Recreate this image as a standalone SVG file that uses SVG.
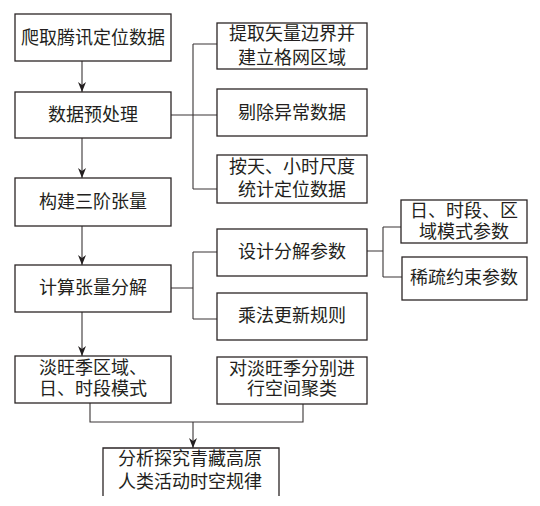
<svg xmlns="http://www.w3.org/2000/svg" width="540" height="506" viewBox="0 0 540 506">
<style>
.box{fill:#fff;stroke:#2b2526;stroke-width:1.3}
.t{font-family:"Liberation Serif","Noto Sans CJK SC",serif;font-size:18px;fill:#231f20;text-anchor:middle}
.ln{fill:none;stroke:#3a3536;stroke-width:1.1}
</style>
<defs>
<marker id="ah" viewBox="0 0 10 10" refX="10" refY="5" markerWidth="10" markerHeight="10" markerUnits="userSpaceOnUse" orient="auto">
<path d="M0,1 L10,5 L0,9 L3,5 Z" fill="#231f20"/>
</marker>
</defs>
<rect width="540" height="506" fill="#fff"/>
<g id="connectors">
<line class="ln" x1="82" y1="61" x2="82" y2="92" marker-end="url(#ah)"/>
<line class="ln" x1="82" y1="138" x2="82" y2="178" marker-end="url(#ah)"/>
<line class="ln" x1="82" y1="226" x2="82" y2="265" marker-end="url(#ah)"/>
<line class="ln" x1="82" y1="312" x2="82" y2="356" marker-end="url(#ah)"/>
<path class="ln" d="M171,115 H217 M193,44 V189 M193,44 H217 M193,189 H217"/>
<path class="ln" d="M171,288 H193 M193,252 V319 M193,252 H217 M193,319 H217"/>
<path class="ln" d="M367,251 H383 M383,227 V277 M383,227 H401 M383,277 H402"/>
<path class="ln" d="M90,403 V422 H303 V404"/>
<line class="ln" x1="193" y1="422" x2="193" y2="448" marker-end="url(#ah)"/>
</g>
<g id="n1"><rect class="box" x="15" y="14" width="156" height="47"/><text class="t" x="93" y="44">爬取腾讯定位数据</text></g>
<g id="n2"><rect class="box" x="15" y="92" width="156" height="46"/><text class="t" x="93" y="121">数据预处理</text></g>
<g id="n3"><rect class="box" x="15" y="178" width="156" height="48"/><text class="t" x="93" y="208">构建三阶张量</text></g>
<g id="n4"><rect class="box" x="15" y="265" width="156" height="47"/><text class="t" x="93" y="294">计算张量分解</text></g>
<g id="n5"><rect class="box" x="15" y="356" width="156" height="47"/><text class="t" x="93" y="374">淡旺季区域、</text><text class="t" x="93" y="395">日、时段模式</text></g>
<g id="nA"><rect class="box" x="217" y="23" width="150" height="46"/><text class="t" x="292" y="40">提取矢量边界并</text><text class="t" x="292" y="64">建立格网区域</text></g>
<g id="nB"><rect class="box" x="217" y="89" width="150" height="47"/><text class="t" x="292" y="119">剔除异常数据</text></g>
<g id="nC"><rect class="box" x="217" y="155" width="150" height="48"/><text class="t" x="292" y="173">按天、小时尺度</text><text class="t" x="292" y="196">统计定位数据</text></g>
<g id="nD"><rect class="box" x="217" y="229" width="150" height="47"/><text class="t" x="292" y="258">设计分解参数</text></g>
<g id="nE"><rect class="box" x="217" y="293" width="150" height="47"/><text class="t" x="292" y="322">乘法更新规则</text></g>
<g id="nF"><rect class="box" x="217" y="357" width="150" height="47"/><text class="t" x="292" y="375">对淡旺季分别进</text><text class="t" x="292" y="395">行空间聚类</text></g>
<g id="nG"><rect class="box" x="401" y="200" width="126" height="43"/><text class="t" x="464" y="217">日、时段、区</text><text class="t" x="464" y="238">域模式参数</text></g>
<g id="nH"><rect class="box" x="402" y="257" width="125" height="43"/><text class="t" x="464" y="284">稀疏约束参数</text></g>
<g id="nI"><path class="box" d="M103,496 V448 H279 V496"/><text class="t" x="190" y="465">分析探究青藏高原</text><text class="t" x="190" y="488">人类活动时空规律</text></g>
</svg>
